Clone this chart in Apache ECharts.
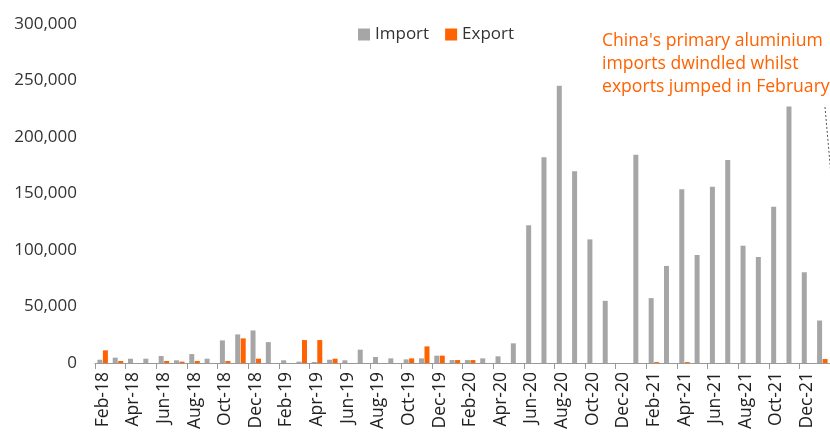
<!DOCTYPE html>
<html>
<head>
<meta charset="utf-8">
<script src="https://cdn.jsdelivr.net/npm/echarts@6/dist/echarts.min.js"></script>
<style>
  html, body { margin: 0; padding: 0; background: #fff; }
  #chart { width: 830px; height: 433px; }
</style>
</head>
<body>
<div id="chart"></div>
<script>
// months Feb-18 .. Jan-22
const months = [
    'Feb-18', 'Mar-18', 'Apr-18', 'May-18', 'Jun-18', 'Jul-18', 'Aug-18', 'Sep-18', 'Oct-18', 'Nov-18', 'Dec-18',
    'Jan-19', 'Feb-19', 'Mar-19', 'Apr-19', 'May-19', 'Jun-19', 'Jul-19', 'Aug-19', 'Sep-19', 'Oct-19', 'Nov-19', 'Dec-19',
    'Jan-20', 'Feb-20', 'Mar-20', 'Apr-20', 'May-20', 'Jun-20', 'Jul-20', 'Aug-20', 'Sep-20', 'Oct-20', 'Nov-20', 'Dec-20',
    'Jan-21', 'Feb-21', 'Mar-21', 'Apr-21', 'May-21', 'Jun-21', 'Jul-21', 'Aug-21', 'Sep-21', 'Oct-21', 'Nov-21', 'Dec-21',
    'Jan-22'
];

const importVals = [
    2900, 4700, 3800, 3800, 6200, 2400, 7900, 3800, 20000, 25300, 28800,
    18500, 2400, 1200, 900, 2900, 2400, 11800, 5300, 4100, 3200, 4100, 6500,
    2600, 2600, 4100, 5900, 17400, 121800, 182000, 245300, 169700, 109400, 55000, 0,
    184400, 57400, 85900, 153800, 95600, 155900, 179700, 103800, 93800, 138200, 227100, 80300,
    37600
];

const exportVals = [
    11200, 1800, 0, 0, 1800, 1200, 1800, 0, 1800, 21800, 3800,
    0, 0, 20300, 20300, 3800, 0, 0, 0, 0, 4100, 14700, 6500,
    2600, 2600, 0, 0, 0, 0, 0, 0, 0, 0, 0, 0,
    0, 800, 0, 800, 0, 0, 0, 0, 0, 0, 0, 0,
    3500
];

const yTicks = [0, 50000, 100000, 150000, 200000, 250000, 300000];

const noteLines = [
    "China's primary aluminium",
    'imports dwindled whilst',
    'exports jumped in February'
];

const FONT = '"Open Sans", "Noto Sans", sans-serif';

window.onload = function() {
    drawChart();
}

function drawChart() {
    let dom = document.getElementById('chart');
    let myChart = echarts.init(dom);

    let option = {
        animation: false,
        textStyle: { fontFamily: FONT },
        legend: {
            data: ['Import', 'Export'],
            top: 21,
            left: 353,
            itemWidth: 12,
            itemHeight: 12,
            itemGap: 16,
            icon: 'rect',
            textStyle: { fontSize: 17, color: '#333', fontFamily: FONT }
        },
        grid: {
            left: 95,
            right: -2,
            top: 24,
            bottom: 70
        },
        xAxis: {
            type: 'category',
            data: months,
            axisLine: { lineStyle: { color: '#999', width: 1 } },
            axisTick: { show: true, interval: 1, length: 6, lineStyle: { color: '#999' } },
            axisLabel: {
                interval: 1,
                rotate: 90,
                fontSize: 17.5,
                color: '#222',
                margin: 9,
                fontFamily: FONT
            }
        },
        yAxis: {
            type: 'value',
            min: 0,
            max: 300000,
            interval: 50000,
            axisLine: { show: false },
            axisTick: { show: false },
            splitLine: { show: false },
            axisLabel: {
                fontSize: 17,
                color: '#333',
                margin: 18,
                fontFamily: FONT,
                formatter: function(v) {
                    return yTicks.indexOf(v) >= 0 ? v.toLocaleString('en-US') : '';
                }
            }
        },
        series: [
            {
                name: 'Import',
                type: 'bar',
                data: importVals,
                barWidth: 5,
                barGap: '10%',
                itemStyle: { color: '#a6a6a6' }
            },
            {
                name: 'Export',
                type: 'bar',
                data: exportVals,
                barWidth: 5,
                barGap: '10%',
                itemStyle: { color: '#ff6200' }
            }
        ],
        graphic: [
            {
                type: 'text',
                left: 602,
                top: 29,
                style: {
                    text: noteLines.join('\n'),
                    fill: '#ff6200',
                    font: '17.6px ' + FONT,
                    lineHeight: 23
                }
            },
            {
                type: 'line',
                shape: { x1: 825, y1: 107, x2: 831, y2: 175 },
                style: { stroke: '#555', lineWidth: 1, lineDash: [2, 2] }
            }
        ]
    };

    myChart.setOption(option, true);
    return myChart;
}
</script>
</body>
</html>
